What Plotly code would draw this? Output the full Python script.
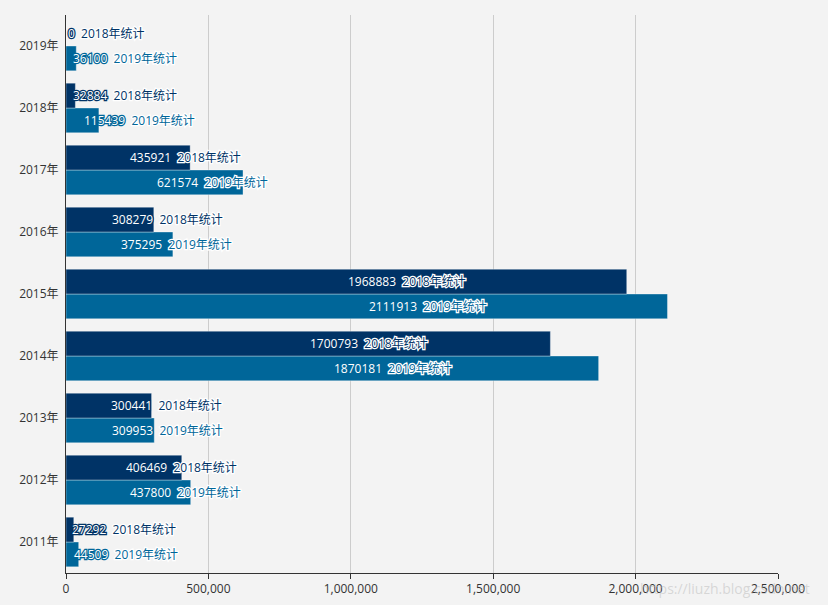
import plotly.graph_objects as go

categories = ["2011年", "2012年", "2013年", "2014年", "2015年", "2016年", "2017年", "2018年", "2019年"]
stats_2018 = [27292, 406469, 300441, 1700793, 1968883, 308279, 435921, 32884, 0]
stats_2019 = [44509, 437800, 309953, 1870181, 2111913, 375295, 621574, 115439, 36100]
series_names = ["2018年统计", "2019年统计"]
series_colors = ["#003366", "#006699"]
x_ticks = [0, 500000, 1000000, 1500000, 2000000, 2500000]

FONT = "Open Sans, Noto Sans CJK SC, sans-serif"

T, B = 15, 32

fig = go.Figure()
# 2019 first so it is drawn below 2018 in each group
for name, vals, col in [(series_names[1], stats_2019, series_colors[1]),
                        (series_names[0], stats_2018, series_colors[0])]:
    fig.add_trace(go.Bar(
        y=categories, x=vals, orientation="h", name=name,
        marker=dict(color=col, line=dict(color="rgba(255,255,255,0.35)", width=1)),
        hoverinfo="x+name",
    ))

annotations = []
for name, vals, col, shift in [(series_names[0], stats_2018, series_colors[0], 12.4),
                               (series_names[1], stats_2019, series_colors[1], -12.4)]:
    for cat, v in zip(categories, vals):
        txt = (f"<span style='color:white;stroke:{col};stroke-width:2.5px;paint-order:stroke'>{v}</span>"
               f"&nbsp;&nbsp;"
               f"<span style='color:{col};stroke:white;stroke-width:2.5px;paint-order:stroke'>{name}</span>")
        annotations.append(dict(
            x=v / 2, y=cat, xref="x", yref="y", text=txt, showarrow=False,
            xanchor="left", yanchor="middle", yshift=shift,
            font=dict(family=FONT, size=12),
        ))

annotations.append(dict(
    x=(812 - 66) / (828 - 66 - 50), y=-(588 - (605 - B)) / (605 - T - B),
    xref="paper", yref="paper", text="https://liuzh.blog.csdn.net",
    showarrow=False, xanchor="right", yanchor="middle",
    font=dict(family=FONT, size=14, color="rgba(190,190,190,0.55)"),
))

fig.update_layout(
    width=828, height=605,
    margin=dict(l=66, r=50, t=T, b=B),
    paper_bgcolor="#f3f3f3", plot_bgcolor="#f3f3f3",
    barmode="group", bargap=0.2, bargroupgap=0,
    showlegend=False,
    font=dict(family=FONT, size=12, color="#333"),
    xaxis=dict(range=[0, 2500000], tickvals=x_ticks, tickformat=",", showgrid=True,
               gridcolor="#cccccc", gridwidth=1, zeroline=False, automargin=False,
               showline=True, linecolor="#333", linewidth=1,
               ticks="outside", ticklen=5, tickcolor="#333", tickfont=dict(size=12, color="#333")),
    yaxis=dict(showline=True, linecolor="#333", linewidth=1, ticks="", showgrid=False,
               automargin=False,
               tickfont=dict(size=12, color="#333"), ticklabelstandoff=4),
    annotations=annotations,
)

fig.write_html("out.html", config={"displayModeBar": False},
               post_script="document.body.style.margin='0';document.body.style.background='#f3f3f3';")
